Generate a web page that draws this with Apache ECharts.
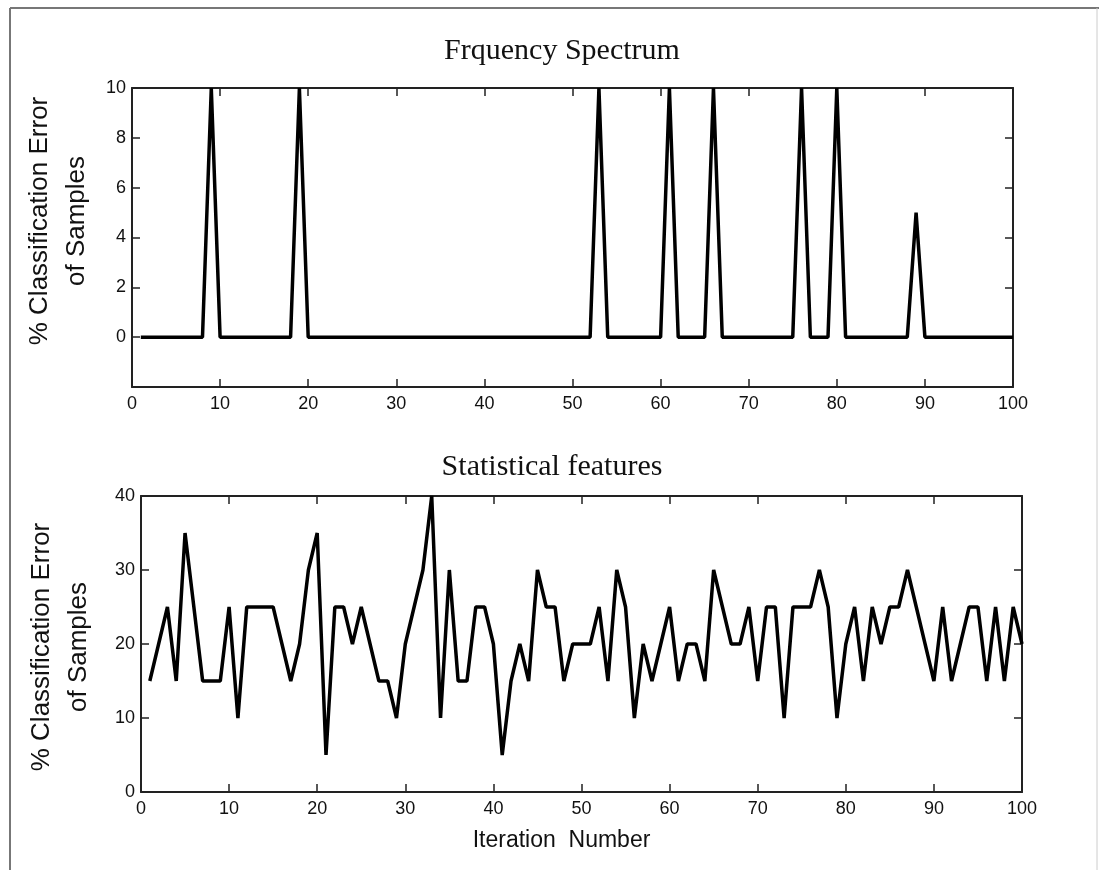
<!DOCTYPE html>
<html>
<head>
<meta charset="utf-8">
<style>
  html, body { margin: 0; padding: 0; background: #fff; }
  #chart { width: 1099px; height: 870px; }
</style>
<script src="https://cdn.jsdelivr.net/npm/echarts@6/dist/echarts.min.js"></script>
</head>
<body>
<div id="chart"></div>
<script>
(function() {
  var ink = '#111';
  var axisInk = '#222';
  var sans = '"Liberation Sans", Arial, sans-serif';
  var serif = '"Liberation Serif", "Times New Roman", serif';

  // --- Data ---
  var iterations = [];
  for (var i = 1; i <= 100; i++) iterations.push(i);

  // Frequency spectrum: % error per iteration (1..100)
  var freqError = [
    0, 0, 0, 0, 0, 0, 0, 0, 10, 0,
    0, 0, 0, 0, 0, 0, 0, 0, 10, 0,
    0, 0, 0, 0, 0, 0, 0, 0, 0, 0,
    0, 0, 0, 0, 0, 0, 0, 0, 0, 0,
    0, 0, 0, 0, 0, 0, 0, 0, 0, 0,
    0, 0, 10, 0, 0, 0, 0, 0, 0, 0,
    10, 0, 0, 0, 0, 10, 0, 0, 0, 0,
    0, 0, 0, 0, 0, 10, 0, 0, 0, 10,
    0, 0, 0, 0, 0, 0, 0, 0, 5, 0,
    0, 0, 0, 0, 0, 0, 0, 0, 0, 0
  ];

  // Statistical features: % error per iteration (1..100)
  var statError = [
    15, 20, 25, 15, 35, 25, 15, 15, 15, 25,
    10, 25, 25, 25, 25, 20, 15, 20, 30, 35,
    5, 25, 25, 20, 25, 20, 15, 15, 10, 20,
    25, 30, 40, 10, 30, 15, 15, 25, 25, 20,
    5, 15, 20, 15, 30, 25, 25, 15, 20, 20,
    20, 25, 15, 30, 25, 10, 20, 15, 20, 25,
    15, 20, 20, 15, 30, 25, 20, 20, 25, 15,
    25, 25, 10, 25, 25, 25, 30, 25, 10, 20,
    25, 15, 25, 20, 25, 25, 30, 25, 20, 15,
    25, 15, 20, 25, 25, 15, 25, 15, 25, 20
  ];

  var freqTicks = [0, 2, 4, 6, 8, 10];

  function pairs(ys) {
    return iterations.map(function(x, k) { return [x, ys[k]]; });
  }

  var chart = echarts.init(document.getElementById('chart'), null, { renderer: 'canvas' });

  var axisLine = { show: true, onZero: false, lineStyle: { color: axisInk, width: 2 } };
  var axisTick = { show: true, inside: true, length: 8, lineStyle: { color: axisInk, width: 1.5 } };
  var yName = '% Classification Error\nof Samples';
  var yNameStyle = { color: ink, fontSize: 26, fontFamily: sans, lineHeight: 37 };

  function xAxes(gridIndex, showName) {
    return [
      {
        type: 'value', gridIndex: gridIndex, min: 0, max: 100, interval: 10,
        axisLine: axisLine, axisTick: axisTick, splitLine: { show: false },
        axisLabel: { color: ink, fontSize: 18, fontFamily: sans, margin: 8 },
        name: showName ? 'Iteration  Number' : '',
        nameLocation: 'middle', nameGap: 37,
        nameTextStyle: { color: ink, fontSize: 23, fontFamily: sans, padding: [0, 40, 0, 0] }
      },
      {
        type: 'value', gridIndex: gridIndex, position: 'top', min: 0, max: 100, interval: 10,
        axisLine: axisLine, axisTick: axisTick, axisLabel: { show: false }, splitLine: { show: false }
      }
    ];
  }

  chart.setOption({
    animation: false,
    backgroundColor: '#fff',
    title: [
      {
        text: 'Frquency Spectrum', left: 562, top: 36, textAlign: 'center', padding: 0,
        textStyle: { color: ink, fontSize: 30, fontWeight: 'normal', fontFamily: serif }
      },
      {
        text: 'Statistical features', left: 552, top: 452, textAlign: 'center', padding: 0,
        textStyle: { color: ink, fontSize: 30, fontWeight: 'normal', fontFamily: serif }
      }
    ],
    grid: [
      { left: 132, right: 86, top: 88, height: 299 },
      { left: 141, right: 77, top: 496, height: 296 }
    ],
    xAxis: xAxes(0, false).concat(xAxes(1, true)),
    yAxis: [
      {
        type: 'value', gridIndex: 0, min: -2, max: 10, interval: 2,
        axisLine: axisLine, axisTick: axisTick, splitLine: { show: false },
        axisLabel: {
          color: ink, fontSize: 18, fontFamily: sans, margin: 6,
          formatter: function(v) { return freqTicks.indexOf(v) >= 0 ? String(v) : ''; }
        },
        name: yName, nameLocation: 'middle', nameRotate: 90, nameGap: 34,
        nameTextStyle: Object.assign({}, yNameStyle, { padding: [0, 0, 0, 33] })
      },
      {
        type: 'value', gridIndex: 0, position: 'right', min: -2, max: 10, interval: 2,
        axisLine: axisLine, axisTick: axisTick, axisLabel: { show: false }, splitLine: { show: false }
      },
      {
        type: 'value', gridIndex: 1, min: 0, max: 40, interval: 10,
        axisLine: axisLine, axisTick: axisTick, splitLine: { show: false },
        axisLabel: { color: ink, fontSize: 18, fontFamily: sans, margin: 6 },
        name: yName, nameLocation: 'middle', nameRotate: 90, nameGap: 44,
        nameTextStyle: Object.assign({}, yNameStyle, { padding: [0, 6, 0, 0] })
      },
      {
        type: 'value', gridIndex: 1, position: 'right', min: 0, max: 40, interval: 10,
        axisLine: axisLine, axisTick: axisTick, axisLabel: { show: false }, splitLine: { show: false }
      }
    ],
    graphic: [
      { type: 'line', shape: { x1: 10, y1: 8, x2: 10, y2: 870 }, style: { stroke: '#777', lineWidth: 2 } },
      { type: 'line', shape: { x1: 10, y1: 8, x2: 1099, y2: 8 }, style: { stroke: '#777', lineWidth: 2 } },
      { type: 'line', shape: { x1: 1097, y1: 8, x2: 1097, y2: 870 }, style: { stroke: '#ccc', lineWidth: 1 } }
    ],
    series: [
      {
        name: 'Frequency Spectrum', type: 'line', xAxisIndex: 0, yAxisIndex: 0,
        data: pairs(freqError), symbol: 'none',
        lineStyle: { color: '#000', width: 3.5 }, itemStyle: { color: '#000' }
      },
      {
        name: 'Statistical features', type: 'line', xAxisIndex: 2, yAxisIndex: 2,
        data: pairs(statError), symbol: 'none',
        lineStyle: { color: '#000', width: 3.5 }, itemStyle: { color: '#000' }
      }
    ]
  });

  window.addEventListener('resize', function() { chart.resize(); });
})();
</script>
</body>
</html>
